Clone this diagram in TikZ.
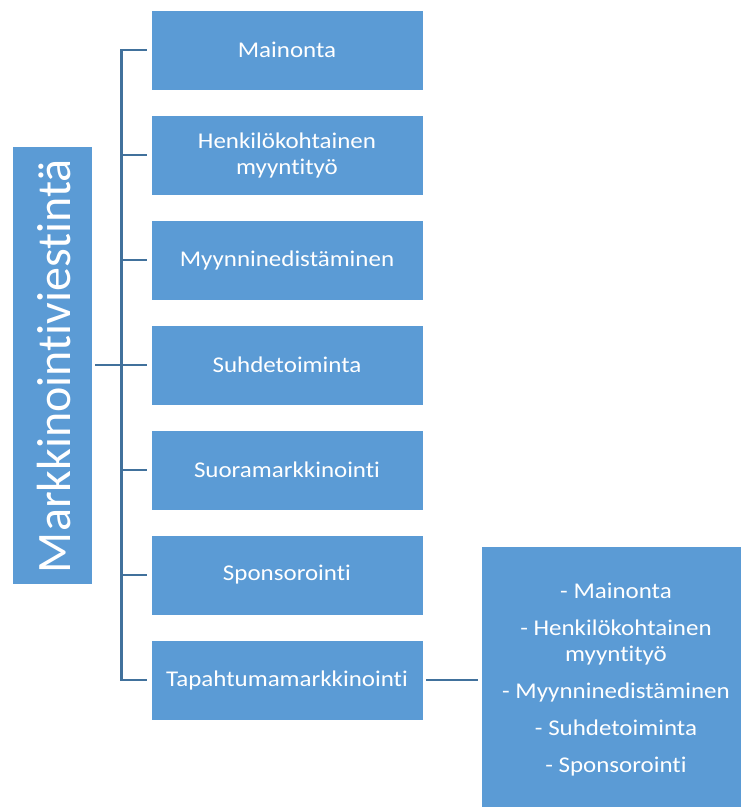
\documentclass[tikz,border=0pt]{standalone}
\usepackage{fontspec}
\setmainfont{Carlito}[Ligatures=NoCommon]
\newfontfamily\boxfont{Carlito}[FakeStretch=1.11, Ligatures=NoCommon]
\definecolor{boxblue}{HTML}{5B9BD5}
\definecolor{lineblue}{HTML}{41719C}
\begin{document}
\begin{tikzpicture}[x=1pt,y=-1pt,
  box/.style={draw=white, line width=0.8pt, fill=boxblue, text=white, minimum width=272pt, minimum height=80pt, inner sep=0pt, align=center, font=\boxfont\fontsize{22.5}{26}\selectfont},
  conn/.style={draw=lineblue, line width=2.6pt}]
\useasboundingbox (0,0) rectangle (741,807);
\node[box, minimum width=80pt, minimum height=438pt] (t) at (52,365) {};
\node[text=white, rotate=90, font=\fontsize{48}{50}\selectfont, inner sep=0pt] (tt) at (54,366) {Markkinointiviestintä};
\node[box] (b1) at (287,50) {Mainonta};
\node[box] (b2) at (287,155) {Henkilökohtainen\\myyntityö};
\node[box] (b3) at (287,260) {Myynninedistäminen};
\node[box] (b4) at (287,365) {Suhdetoiminta};
\node[box] (b5) at (287,470) {Suoramarkkinointi};
\node[box] (b6) at (287,575) {Sponsorointi};
\node[box] (b7) at (287,680) {Tapahtumamarkkinointi};
\node[box, minimum width=262pt, minimum height=262pt] (r) at (612,677) {};
\node[text=white, align=center, font=\boxfont\fontsize{22.5}{26}\selectfont, inner sep=0pt] (rt) at (616,680) {- Mainonta\\[11pt]- Henkilökohtainen\\myyntityö\\[11pt]- Myynninedistäminen\\[11pt]- Suhdetoiminta\\[11pt]- Sponsorointi};
\draw[conn] ([xshift=-4pt]b1.west) -- ++(-25,0) |- ([xshift=-4pt]b7.west);
\foreach \i in {2,...,6} {\draw[conn] ([xshift=-4pt]b\i.west) -- ++(-25,0);}
\draw[conn] ([xshift=3pt]t.east) -- ([xshift=-4pt]b4.west);
\draw[conn] ([xshift=3pt]b7.east) -- ([xshift=-3pt]r.west |- b7.east);
\end{tikzpicture}
\end{document}
